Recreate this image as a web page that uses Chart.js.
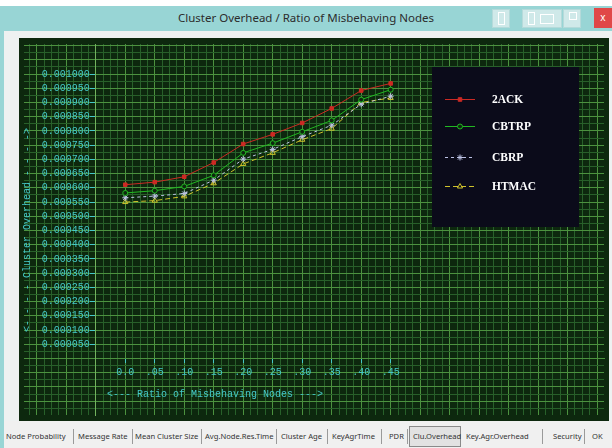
<!DOCTYPE html>
<html>
<head>
<meta charset="utf-8">
<title>Cluster Overhead / Ratio of Misbehaving Nodes</title>
<script src="https://cdn.jsdelivr.net/npm/chart.js"></script>
<style>
  html, body { margin: 0; padding: 0; }
  body { width: 612px; height: 448px; position: relative; overflow: hidden; background: #eef1f1; font-family: "Noto Sans", sans-serif; }
  .strip { position: absolute; left: 0; top: 0; width: 612px; height: 6px; background: #ffffff; }
  .titlebar { position: absolute; left: 0; top: 6px; width: 612px; height: 25px; background: #98d5d5; }
  .caption { position: absolute; left: 0; top: 4px; width: 612px; text-align: center; font-size: 11.5px; color: #2c2c2c; }
  .wbtn { position: absolute; top: 3px; height: 17px; background: #cfe9e9; border: 1px solid #b5dada; }
  .close { position: absolute; left: 594px; top: 2px; width: 18px; height: 20px; background: #e04848; color: #fff; font-size: 10px; text-align: center; line-height: 19px; }
  .frameL { position: absolute; left: 0; top: 31px; width: 4px; height: 417px; background: #98d5d5; }
  .plot { position: absolute; left: 19px; top: 38px; width: 590px; height: 383px; background: #0d280e; }
  .plot canvas { display: block; }
  .tabs { position: absolute; left: 4px; top: 421px; width: 608px; height: 27px; background: #f0f0f0; }
  .tabs span { position: absolute; top: 10px; font-size: 7.6px; color: #333; white-space: nowrap; }
  .tabs i { position: absolute; top: 8px; width: 1px; height: 15px; background: #9a9a9a; }
  .tabs .on { position: absolute; top: 5px; height: 19px; border: 1px solid #8a8a8a; background: #e2e2e2; }
</style>
</head>
<body>
<div class="strip"></div>
<div class="titlebar">
  <div class="caption">Cluster Overhead / Ratio of Misbehaving Nodes</div>
  <div class="wbtn" style="left:492px;width:16px"><div style="position:absolute;left:5px;top:2px;width:5px;height:11px;border:1px solid #fff"></div></div>
  <div class="wbtn" style="left:522px;width:38px"><div style="position:absolute;left:5px;top:2px;width:5px;height:11px;border:1px solid #fff"></div><div style="position:absolute;left:17px;top:4px;width:12px;height:8px;border:1px solid #fff"></div></div>
  <div class="wbtn" style="left:563px;width:16px"><div style="position:absolute;left:5px;top:2px;width:6px;height:6px;border:1px solid #fff"></div></div>
  <div class="close">x</div>
</div>
<div class="frameL"></div>
<div class="plot"><canvas id="chart" width="590" height="383"></canvas></div>
<div class="tabs">
  <span style="left:2px">Node Probability</span><i style="left:69px"></i>
  <span style="left:74px">Message Rate</span><i style="left:128px"></i>
  <span style="left:131px">Mean Cluster Size</span><i style="left:197px"></i>
  <span style="left:201px">Avg.Node.Res.Time</span><i style="left:272px"></i>
  <span style="left:277px">Cluster Age</span><i style="left:323px"></i>
  <span style="left:328px">KeyAgrTime</span><i style="left:377px"></i>
  <span style="left:385px">PDR</span><i style="left:403px"></i>
  <div class="on" style="left:405px;width:50px"></div><span style="left:409px">Clu.Overhead</span>
  <span style="left:462px">Key.Agr.Overhead</span><i style="left:538px"></i>
  <span style="left:549px">Security</span><i style="left:580px"></i>
  <span style="left:588px">OK</span>
</div>
<script>
// Messdaten: Cluster Overhead je Anteil fehlerhafter Knoten
const ratios = [0.0, 0.05, 0.10, 0.15, 0.20, 0.25, 0.30, 0.35, 0.40, 0.45];
const ack2  = [0.000611, 0.000620, 0.000639, 0.000689, 0.000754, 0.000788, 0.000828, 0.000879, 0.000942, 0.000967];
const cbtrp = [0.000582, 0.000590, 0.000605, 0.000644, 0.000723, 0.000757, 0.000797, 0.000837, 0.000910, 0.000945];
const cbrp  = [0.000565, 0.000571, 0.000580, 0.000627, 0.000701, 0.000735, 0.000780, 0.000820, 0.000894, 0.000922];
const htmac = [0.000550, 0.000555, 0.000570, 0.000616, 0.000684, 0.000723, 0.000769, 0.000808, 0.000900, 0.000916];

const xTickLabels = ['0.0', '.05', '.10', '.15', '.20', '.25', '.30', '.35', '.40', '.45'];
const yTickLabels = ['0.000050', '0.000100', '0.000150', '0.000200', '0.000250', '0.000300', '0.000350',
                     '0.000400', '0.000450', '0.000500', '0.000550', '0.000600', '0.000650', '0.000700',
                     '0.000750', '0.000800', '0.000850', '0.000900', '0.000950', '0.001000'];
const xTitle = '<--- Ratio of Misbehaving Nodes --->';
const yTitle = '<- - - - Cluster Overhead - - - ->';

const X_STEP = 0.05, Y_STEP = 0.00005;
const cyan = '#45c8c8';
const mono = { family: '"Liberation Mono", "DejaVu Sans Mono", monospace', size: 10 };
const minorLine = '#28602a';
const majorLine = '#4c923f';

// Prüft, ob v ein ganzzahliges Vielfaches von step ist
function onStep(v, step) {
    const q = v / step;
    return Math.abs(q - Math.round(q)) < 1e-6;
}

function pts(values) {
    return ratios.map((r, i) => ({ x: r, y: values[i] }));
}

// Legende + Achsentitel direkt auf die Zeichenfläche
const decor = {
    id: 'decor',
    afterDraw(chart) {
        const ctx = chart.ctx;
        ctx.save();
        ctx.fillStyle = '#0b0b1a';
        ctx.fillRect(413, 29, 147, 160);
        const rows = [61, 88, 119, 148];
        chart.data.datasets.forEach((ds, i) => {
            const y = rows[i];
            ctx.strokeStyle = ds.borderColor;
            ctx.lineWidth = 1;
            ctx.setLineDash(ds.borderDash || []);
            ctx.beginPath();
            ctx.moveTo(426, y + 0.5);
            ctx.lineTo(456, y + 0.5);
            ctx.stroke();
            ctx.setLineDash([]);
            ctx.fillStyle = ds.pointBackgroundColor;
            ctx.strokeStyle = ds.borderColor;
            Chart.helpers.drawPoint(ctx, { pointStyle: ds.pointStyle, radius: ds.pointRadius, borderWidth: 1, rotation: 0 }, 441, y + 0.5);
            ctx.fillStyle = '#ffffff';
            ctx.font = 'bold 11.5px "Liberation Serif", serif';
            ctx.textBaseline = 'middle';
            ctx.textAlign = 'left';
            ctx.fillText(ds.label, 473, y + 1);
        });

        ctx.fillStyle = cyan;
        ctx.font = '10px ' + mono.family;
        ctx.textBaseline = 'middle';
        ctx.textAlign = 'left';
        ctx.fillText(xTitle, 88, 356);

        ctx.translate(8, 192);
        ctx.rotate(-Math.PI / 2);
        ctx.textAlign = 'center';
        ctx.fillText(yTitle, 0, 0);
        ctx.restore();
    }
};

new Chart(document.getElementById('chart'), {
    type: 'line',
    data: {
        datasets: [
            {
                label: '2ACK',
                data: pts(ack2),
                borderColor: '#cc2a24',
                pointBackgroundColor: '#cc2a24',
                pointStyle: 'rect',
                pointRadius: 2.5,
                borderWidth: 1
            },
            {
                label: 'CBTRP',
                data: pts(cbtrp),
                borderColor: '#22b822',
                pointBackgroundColor: '#0d280e',
                pointStyle: 'circle',
                pointRadius: 2.5,
                borderWidth: 1
            },
            {
                label: 'CBRP',
                data: pts(cbrp),
                borderColor: '#bcc2e4',
                pointBackgroundColor: '#bcc2e4',
                borderDash: [3, 3],
                pointStyle: 'star',
                pointRadius: 3,
                borderWidth: 1
            },
            {
                label: 'HTMAC',
                data: pts(htmac),
                borderColor: '#cfc22c',
                pointBackgroundColor: 'rgba(0,0,0,0)',
                borderDash: [5, 3],
                pointStyle: 'triangle',
                pointRadius: 3,
                borderWidth: 1
            }
        ]
    },
    options: {
        responsive: false,
        animation: false,
        layout: { padding: 0 },
        elements: { line: { tension: 0 }, point: { borderWidth: 1 } },
        plugins: { legend: { display: false }, tooltip: { enabled: false } },
        scales: {
            x: {
                type: 'linear',
                min: -0.17167,
                max: 0.81167,
                position: { y: 0 },
                ticks: {
                    stepSize: 0.0125,
                    includeBounds: false,
                    autoSkip: false,
                    maxRotation: 0,
                    padding: 4,
                    color: cyan,
                    font: mono,
                    callback: function (v) {
                        const i = Math.round(v / X_STEP);
                        return onStep(v, X_STEP) && i >= 0 && i < xTickLabels.length ? xTickLabels[i] : '';
                    }
                },
                grid: {
                    lineWidth: 1,
                    tickLength: 4,
                    color: c => onStep(c.tick.value, X_STEP) ? majorLine : minorLine,
                    tickColor: c => {
                        const i = Math.round(c.tick.value / X_STEP);
                        return onStep(c.tick.value, X_STEP) && i >= 0 && i < xTickLabels.length ? cyan : 'rgba(0,0,0,0)';
                    }
                },
                border: { color: majorLine }
            },
            y: {
                type: 'linear',
                min: -0.0001985,
                max: 0.0011056,
                position: { x: -0.05 },
                ticks: {
                    stepSize: 0.000025,
                    includeBounds: false,
                    autoSkip: false,
                    padding: 0,
                    color: cyan,
                    font: mono,
                    // Leerzeichen am Ende hält den Text vom Tick-Strich fern
                    callback: function (v) {
                        const i = Math.round(v / Y_STEP) - 1;
                        return onStep(v, Y_STEP) && i >= 0 && i < yTickLabels.length ? yTickLabels[i] + ' ' : '';
                    }
                },
                grid: {
                    lineWidth: 1,
                    tickLength: 5,
                    color: c => onStep(c.tick.value, Y_STEP) ? majorLine : minorLine,
                    tickColor: c => {
                        const i = Math.round(c.tick.value / Y_STEP) - 1;
                        return onStep(c.tick.value, Y_STEP) && i >= 0 && i < yTickLabels.length ? cyan : 'rgba(0,0,0,0)';
                    }
                },
                border: { color: '#72b35e' }
            }
        }
    },
    plugins: [decor]
});
</script>
</body>
</html>
